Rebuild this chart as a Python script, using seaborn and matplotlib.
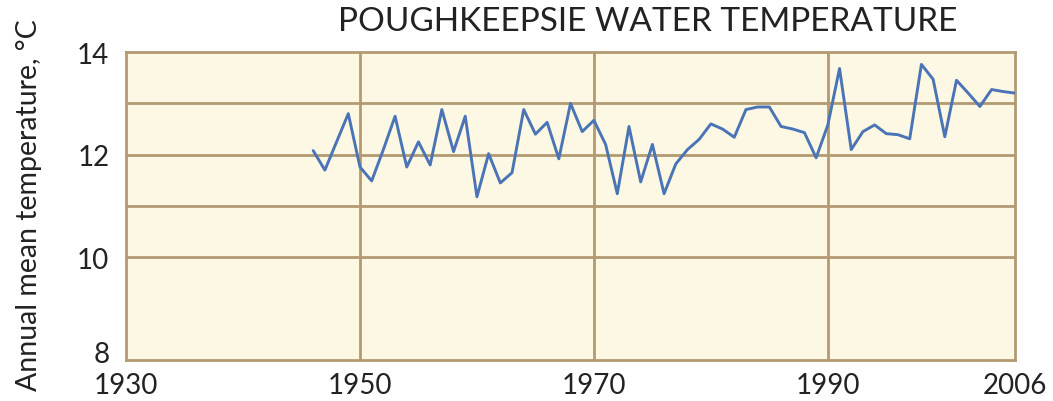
import numpy as np
import pandas as pd
import matplotlib
matplotlib.use("Agg")
import matplotlib.pyplot as plt
import matplotlib.transforms as mtransforms
import seaborn as sns

# annual mean water temperature at Poughkeepsie
years = list(range(1946, 2007))
temps = [
    12.08, 11.70, 12.25, 12.80, 11.76, 11.49, 12.10, 12.75, 11.76, 12.25,
    11.80, 12.88, 12.06, 12.75, 11.18, 12.02, 11.45, 11.65, 12.88, 12.40,
    12.63, 11.92, 13.00, 12.45, 12.67, 12.20, 11.24, 12.55, 11.47, 12.20,
    11.24, 11.82, 12.10, 12.30, 12.60, 12.50, 12.34, 12.88, 12.93, 12.93,
    12.55, 12.50, 12.43, 11.94, 12.58, 13.68, 12.10, 12.45, 12.58, 12.41,
    12.39, 12.31, 13.76, 13.47, 12.35, 13.45, 13.20, 12.94, 13.27, 13.23,
    13.20,
]

x_ticks = [1930, 1950, 1970, 1990, 2006]
y_ticks = [8, 10, 12, 14]
y_grid = [10, 11, 12, 13]
x_grid = [1950, 1970, 1990]

df = pd.DataFrame({"year": years, "temp": temps})

sns.set_style("white")
plt.rcParams["font.family"] = ["Lato", "DejaVu Sans"]

frame_col = "#B39A72"
text_col = "#222222"
fig = plt.figure(figsize=(10.53, 4.02), dpi=100)
ax = fig.add_axes([0.1197, 0.102, 0.8442, 0.766])
ax.set_facecolor("#FCF8E4")

for v in y_grid:
    ax.axhline(v, color=frame_col, lw=2, zorder=1)
for v in x_grid:
    ax.axvline(v, color=frame_col, lw=2, zorder=1)

sns.lineplot(data=df, x="year", y="temp", ax=ax, color="#4A74B6", lw=2.1, zorder=3)

ax.set_xlim(1930, 2006)
ax.set_ylim(8, 14)
ax.set_xticks(x_ticks)
ax.set_yticks(y_ticks)
ax.tick_params(length=0, labelsize=20, colors=text_col)
ax.tick_params(axis="x", pad=9)
ax.tick_params(axis="y", pad=12)
ax.set_xlabel("")
ax.set_ylabel("Annual mean temperature, °C", fontsize=20.5, color=text_col)
ax.yaxis.set_label_coords(-0.094, 0.506)
for s in ax.spines.values():
    s.set_color(frame_col)
    s.set_linewidth(2)

# lift the bottom "8" a little so it clears the 1930 label
lbl8 = ax.get_yticklabels()[0]
lbl8.set_transform(lbl8.get_transform() + mtransforms.ScaledTranslation(0, 6 / 72, fig.dpi_scale_trans))

fig.text(0.615, 0.945, "POUGHKEEPSIE WATER TEMPERATURE", ha="center", va="center",
         fontsize=24, color=text_col)

fig.savefig("out.png", dpi=100)
plt.close(fig)
